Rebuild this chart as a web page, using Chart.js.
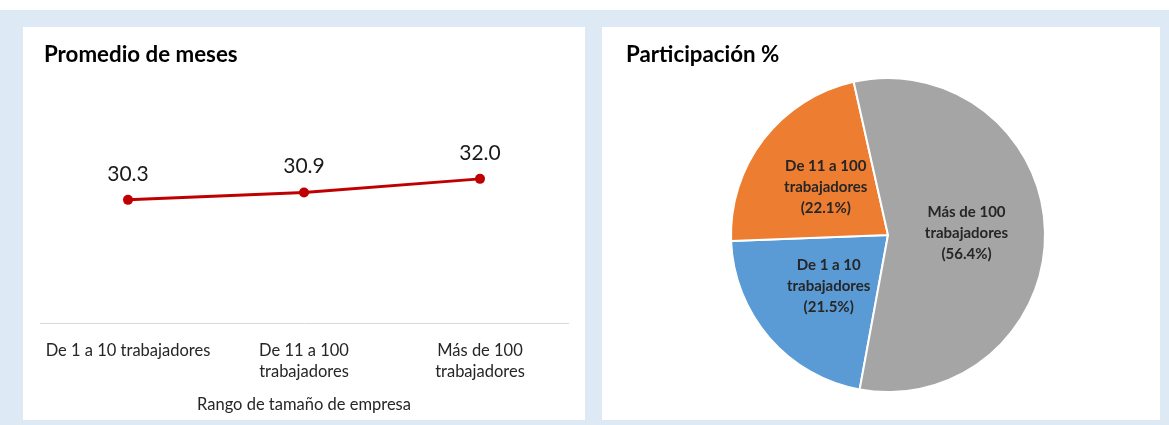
<!DOCTYPE html>
<html lang="es">
<head>
<meta charset="UTF-8">
<title>Promedio de meses / Participación %</title>
<script src="https://cdn.jsdelivr.net/npm/chart.js"></script>
<style>
    body {
        margin: 0;
        background: #ffffff;
        font-family: Lato, "Open Sans", sans-serif;
    }
    #frame {
        position: absolute;
        left: 0;
        top: 10px;
        width: 1169px;
        height: 415px;
        background: #ddeaf6;
    }
    .panel {
        position: absolute;
        top: 27px;
        height: 393px;
        background: #ffffff;
    }
    .panel h2 {
        position: absolute;
        margin: 0;
        top: 13px;
        font-size: 22.3px;
        font-weight: bold;
        color: #000;
    }
    .panel canvas {
        position: absolute;
        left: 0;
        top: 0;
    }
</style>
</head>
<body>
<div id="frame"></div>
<div class="panel" style="left:23px; width:562px;">
    <canvas id="line-chart" width="562" height="393"></canvas>
    <h2 style="left:21px;">Promedio de meses</h2>
</div>
<div class="panel" style="left:602px; width:558px;">
    <canvas id="pie-chart" width="558" height="393"></canvas>
    <h2 style="left:24px;">Participación %</h2>
</div>
<script>
// categories and values
const sizeLabels = [
    ['De 1 a 10 trabajadores'],
    ['De 11 a 100', 'trabajadores'],
    ['Más de 100', 'trabajadores']
];
const avgMonths = [30.3, 30.9, 32.0];

const shareLabels = [
    ['De 1 a 10', 'trabajadores'],
    ['De 11 a 100', 'trabajadores'],
    ['Más de 100', 'trabajadores']
];
const shareValues = [21.5, 22.1, 56.4];
const shareColors = ['#5b9bd5', '#ed7d31', '#a5a5a5'];

const FONT = 'Lato, "Open Sans", sans-serif';

// value labels above line points
const pointLabels = {
    id: 'pointLabels',
    afterDatasetsDraw(chart) {
        const ctx = chart.ctx;
        const meta = chart.getDatasetMeta(0);
        ctx.save();
        ctx.font = '21px ' + FONT;
        ctx.fillStyle = '#1a1a1a';
        ctx.textAlign = 'center';
        ctx.textBaseline = 'middle';
        meta.data.forEach((pt, i) => {
            ctx.fillText(avgMonths[i].toFixed(1), pt.x, pt.y - 26);
        });
        ctx.restore();
    }
};

// labels inside pie slices
const sliceLabels = {
    id: 'sliceLabels',
    afterDatasetsDraw(chart) {
        const ctx = chart.ctx;
        const meta = chart.getDatasetMeta(0);
        ctx.save();
        ctx.font = 'bold 15px ' + FONT;
        ctx.fillStyle = '#262626';
        ctx.textAlign = 'center';
        ctx.textBaseline = 'middle';
        meta.data.forEach((arc, i) => {
            const c = arc.getCenterPoint();
            const lines = shareLabels[i].concat(['(' + shareValues[i].toFixed(1) + '%)']);
            const lh = 21;
            const y0 = c.y - lh * (lines.length - 1) / 2;
            lines.forEach((t, j) => ctx.fillText(t, c.x, y0 + j * lh));
        });
        ctx.restore();
    }
};

new Chart(document.getElementById('line-chart'), {
    type: 'line',
    data: {
        labels: sizeLabels,
        datasets: [{
            data: avgMonths,
            borderColor: '#c00000',
            backgroundColor: '#c00000',
            borderWidth: 3,
            pointRadius: 5,
            pointBackgroundColor: '#c00000',
            pointBorderWidth: 0,
            tension: 0
        }]
    },
    options: {
        responsive: false,
        animation: false,
        layout: { padding: { left: 17, right: 17, top: 63, bottom: 5 } },
        plugins: {
            legend: { display: false },
            tooltip: { enabled: false }
        },
        scales: {
            x: {
                offset: true,
                grid: { display: false, drawTicks: false },
                border: { display: true, color: '#d9d9d9', width: 1 },
                ticks: {
                    color: '#262626',
                    font: { family: FONT, size: 16.5, lineHeight: 1.27 },
                    padding: 17,
                    maxRotation: 0,
                    autoSkip: false
                },
                title: {
                    display: true,
                    text: 'Rango de tamaño de empresa',
                    color: '#262626',
                    font: { family: FONT, size: 16.5 },
                    padding: { top: -4, bottom: 0 }
                }
            },
            y: {
                display: false,
                min: 20.3,
                max: 39.2
            }
        }
    },
    plugins: [pointLabels]
});

new Chart(document.getElementById('pie-chart'), {
    type: 'pie',
    data: {
        labels: shareLabels.map(l => l.join(' ')),
        datasets: [{
            data: shareValues,
            backgroundColor: shareColors,
            borderColor: '#ffffff',
            borderWidth: 2
        }]
    },
    options: {
        responsive: false,
        animation: false,
        rotation: 190.4,
        layout: { padding: { left: 128, right: 114, top: 50, bottom: 27 } },
        plugins: {
            legend: { display: false },
            tooltip: { enabled: false }
        }
    },
    plugins: [sliceLabels]
});
</script>
</body>
</html>
